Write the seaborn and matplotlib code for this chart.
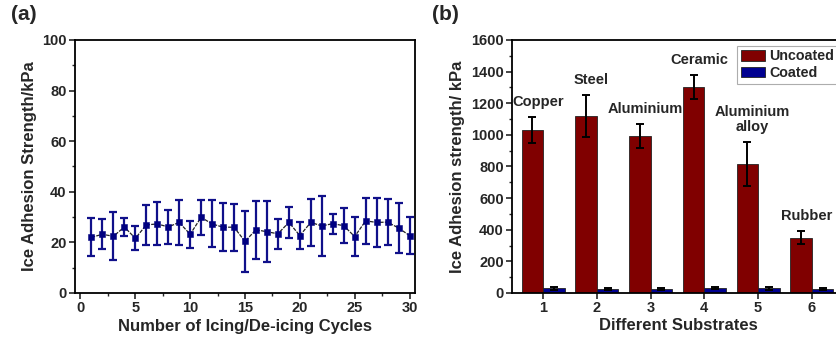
import numpy as np
import pandas as pd
import matplotlib
matplotlib.use("Agg")
import matplotlib.pyplot as plt
from matplotlib.ticker import MultipleLocator
import seaborn as sns

# ---------------- data ----------------
cycles = list(range(1, 31))
adhesion_a = [22.0, 23.2, 22.4, 26.1, 21.6, 26.9, 27.3, 26.1, 27.9, 23.2,
              29.9, 27.3, 26.0, 26.0, 20.4, 25.0, 24.2, 23.4, 27.9, 22.7,
              27.9, 26.5, 27.4, 26.6, 22.3, 28.5, 27.9, 28.0, 25.7, 22.7]
err_a = [7.5, 6.0, 9.5, 3.5, 4.8, 8.0, 8.5, 6.7, 9.0, 5.3,
         7.0, 9.3, 9.5, 9.3, 12.0, 11.4, 12.0, 6.0, 6.0, 5.2,
         9.3, 12.0, 4.0, 7.0, 7.8, 9.2, 9.8, 9.0, 10.0, 7.3]

substrates = ["1", "2", "3", "4", "5", "6"]
substrate_names = ["Copper", "Steel", "Aluminium", "Ceramic", "Aluminium\nalloy", "Rubber"]
uncoated = [1031, 1120, 994, 1302, 816, 350]
uncoated_err = [80, 135, 75, 75, 140, 42]
coated = [30, 25, 25, 30, 30, 25]
coated_err = [8, 7, 7, 7, 10, 7]
series_names = ["Uncoated", "Coated"]

# ---------------- style ----------------
sns.set_theme(style="ticks")
plt.rcParams["font.family"] = ["Liberation Sans", "DejaVu Sans"]
plt.rcParams["font.weight"] = "bold"
plt.rcParams["axes.labelweight"] = "bold"
plt.rcParams["axes.linewidth"] = 1.3
plt.rcParams["xtick.direction"] = "out"
plt.rcParams["ytick.direction"] = "out"

fig = plt.figure(figsize=(8.37, 3.44), dpi=100)
ax1 = fig.add_axes([0.0896, 0.1483, 0.4062, 0.7355])
ax2 = fig.add_axes([0.6117, 0.1483, 0.3967, 0.7355])

navy = "#10108a"

# ---------------- panel (a) ----------------
df_a = pd.DataFrame({"cycle": cycles, "val": adhesion_a, "err": err_a})
ax1.errorbar(df_a["cycle"], df_a["val"], yerr=df_a["err"], fmt="none",
             ecolor=navy, elinewidth=1.6, capsize=3, capthick=1.6, zorder=2)
sns.lineplot(data=df_a, x="cycle", y="val", ax=ax1, color="#222222",
             linewidth=0.9, linestyle=(0, (3, 1)), zorder=3)
sns.scatterplot(data=df_a, x="cycle", y="val", ax=ax1, marker="s", s=22,
                color="#000080", edgecolor="#000080", zorder=4)
ax1.set_xlim(-0.5, 30.5)
ax1.set_ylim(0, 100)
ax1.xaxis.set_major_locator(MultipleLocator(5))
ax1.xaxis.set_minor_locator(MultipleLocator(2.5))
ax1.yaxis.set_major_locator(MultipleLocator(20))
ax1.yaxis.set_minor_locator(MultipleLocator(10))
ax1.set_xlabel("Number of Icing/De-icing Cycles", fontsize=12, fontweight="bold", labelpad=3)
ax1.set_ylabel("Ice Adhesion Strength/kPa", fontsize=12, fontweight="bold", labelpad=4)
for sp in ax1.spines.values():
    sp.set_visible(True)
    sp.set_color("black")

# ---------------- panel (b) ----------------
df_b = pd.DataFrame({
    "substrate": substrates * 2,
    "val": uncoated + coated,
    "err": uncoated_err + coated_err,
    "type": [series_names[0]] * len(substrates) + [series_names[1]] * len(substrates),
})
sns.barplot(data=df_b, x="substrate", y="val", hue="type", ax=ax2,
            palette=["#800000", "#000090"], errorbar=None, width=0.8,
            edgecolor="#222222", linewidth=0.6, saturation=1)
# error bars at bar centres
bars = [p for p in ax2.patches if p.get_height() > 0]
centers = [p.get_x() + p.get_width() / 2 for p in bars]
heights = [p.get_height() for p in bars]
errs = list(df_b["err"])
ax2.errorbar(centers, heights, yerr=errs, fmt="none", ecolor="black",
             elinewidth=1.4, capsize=3, capthick=1.4, zorder=5)
# substrate names above uncoated bars
for i, name in enumerate(substrate_names):
    top = uncoated[i] + uncoated_err[i]
    ax2.text(centers[i] + 0.1, top + 50, name, ha="center", va="bottom",
             fontsize=10.5, fontweight="bold", linespacing=1.1)
ax2.set_xlim(-0.58, 5.6)
ax2.set_ylim(0, 1600)
ax2.yaxis.set_major_locator(MultipleLocator(200))
ax2.yaxis.set_minor_locator(MultipleLocator(100))
ax2.set_xlabel("Different Substrates", fontsize=12, fontweight="bold", labelpad=2)
ax2.set_ylabel("Ice Adhesion strength/ kPa", fontsize=12, fontweight="bold", labelpad=4)
for sp in ax2.spines.values():
    sp.set_visible(True)
    sp.set_color("black")

leg = ax2.legend(loc="upper left", bbox_to_anchor=(737 / 837, 1 - 45.7 / 344),
                 bbox_transform=fig.transFigure, frameon=True, fancybox=False,
                 fontsize=10.3, handlelength=1.7, handleheight=0.75, borderpad=0.25,
                 labelspacing=0.2, handletextpad=0.3, borderaxespad=0,
                 title=None)
leg.get_frame().set_edgecolor("#999999")
leg.get_frame().set_linewidth(0.8)
for t in leg.get_texts():
    t.set_fontweight("bold")

for ax in (ax1, ax2):
    ax.tick_params(which="major", length=4, width=1.2, labelsize=10.5, pad=2)
    ax.tick_params(which="minor", length=2.5, width=1.0)
    for lab in ax.get_xticklabels() + ax.get_yticklabels():
        lab.set_fontweight("bold")
ax2.tick_params(axis="x", which="minor", bottom=False)

fig.text(0.013, 0.985, "(a)", fontsize=15, fontweight="bold", va="top", ha="left")
fig.text(0.516, 0.985, "(b)", fontsize=15, fontweight="bold", va="top", ha="left")

fig.savefig("out.png", dpi=100)
